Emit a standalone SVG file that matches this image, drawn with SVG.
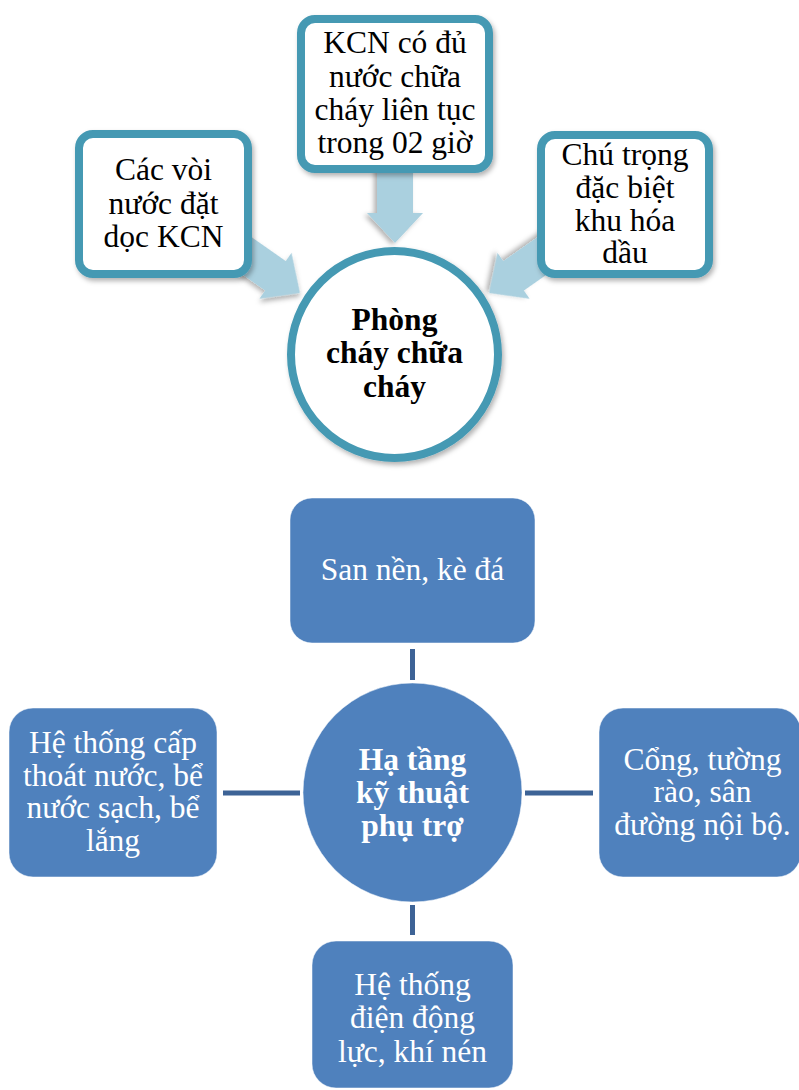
<svg xmlns="http://www.w3.org/2000/svg" width="799" height="1090" viewBox="0 0 799 1090">
<style>
.tb{fill:#ffffff;stroke:#4599B3;stroke-width:8}
.ar{fill:#AAD0DF}
.t{font-family:"Liberation Serif","Times New Roman",serif;font-size:31.5px;text-anchor:middle}
.dk{fill:#000000}
.wt{fill:#ffffff}
.b{font-weight:bold}
.bb{fill:#4F81BD;stroke:#ffffff;stroke-opacity:0.5;stroke-width:1}
.cn{stroke:#3D6396;stroke-width:5;fill:none}
</style>
<defs>
<filter id="sh" x="-20%" y="-20%" width="140%" height="140%">
<feDropShadow dx="2" dy="3" stdDeviation="2.5" flood-color="#000" flood-opacity="0.3"/>
</filter>
<polygon id="arrow" points="-90,-18 -30,-18 -30,-28 0,0 -30,28 -30,18 -90,18"/>
</defs>
<g id="connectors">
<use href="#arrow" class="ar" filter="url(#sh)" transform="translate(300,293) rotate(35)"/>
<use href="#arrow" class="ar" filter="url(#sh)" transform="translate(489,293) rotate(145)"/>
<use href="#arrow" class="ar" filter="url(#sh)" transform="translate(395,243) rotate(90)"/>
<line class="cn" x1="412.5" y1="649" x2="412.5" y2="680"/>
<line class="cn" x1="223" y1="793" x2="300" y2="793"/>
<line class="cn" x1="525" y1="793" x2="593" y2="793"/>
<line class="cn" x1="412.5" y1="905" x2="412.5" y2="935"/>
</g>
<g id="node-voi-nuoc">
<rect class="tb" filter="url(#sh)" x="79" y="134" width="169" height="140" rx="14"/>
<text class="t dk" x="163.5"><tspan x="163.5" y="180">Các vòi</tspan><tspan x="163.5" y="213.5">nước đặt</tspan><tspan x="163.5" y="247">dọc KCN</tspan></text>
</g>
<g id="node-kcn">
<rect class="tb" filter="url(#sh)" x="301" y="19" width="188" height="150" rx="14"/>
<text class="t dk"><tspan x="395" y="53">KCN có đủ</tspan><tspan x="395" y="87">nước chữa</tspan><tspan x="395" y="120">cháy liên tục</tspan><tspan x="395" y="153">trong 02 giờ</tspan></text>
</g>
<g id="node-chu-trong">
<rect class="tb" filter="url(#sh)" x="541" y="135" width="168" height="139" rx="14"/>
<text class="t dk"><tspan x="625" y="165">Chú trọng</tspan><tspan x="625" y="198">đặc biệt</tspan><tspan x="625" y="231">khu hóa</tspan><tspan x="625" y="263">dầu</tspan></text>
</g>
<g id="node-pccc">
<circle class="tb" filter="url(#sh)" cx="394.5" cy="354.5" r="103.5"/>
<text class="t dk b"><tspan x="394.5" y="330">Phòng</tspan><tspan x="394.5" y="363">cháy chữa</tspan><tspan x="394.5" y="397">cháy</tspan></text>
</g>
<g id="node-san-nen">
<rect class="bb" x="290" y="498" width="245" height="145" rx="22"/>
<text class="t wt" x="412.5" y="580">San nền, kè đá</text>
</g>
<g id="node-ha-tang">
<circle class="bb" cx="412.5" cy="792.5" r="109.5"/>
<text class="t wt b"><tspan x="412.5" y="770">Hạ tầng</tspan><tspan x="412.5" y="803">kỹ thuật</tspan><tspan x="412.5" y="836">phụ trợ</tspan></text>
</g>
<g id="node-cap-thoat-nuoc">
<rect class="bb" x="9" y="708" width="208" height="169" rx="24"/>
<text class="t wt"><tspan x="113" y="753">Hệ thống cấp</tspan><tspan x="113" y="785.5">thoát nước, bể</tspan><tspan x="113" y="818">nước sạch, bể</tspan><tspan x="113" y="850.5">lắng</tspan></text>
</g>
<g id="node-cong-tuong">
<rect class="bb" x="599" y="708" width="202" height="169" rx="24"/>
<text class="t wt"><tspan x="702.5" y="770">Cổng, tường</tspan><tspan x="702.5" y="802">rào, sân</tspan><tspan x="702.5" y="835">đường nội bộ.</tspan></text>
</g>
<g id="node-dien-dong-luc">
<rect class="bb" x="312" y="941" width="201" height="147" rx="24"/>
<text class="t wt"><tspan x="412.5" y="995">Hệ thống</tspan><tspan x="412.5" y="1028">điện động</tspan><tspan x="412.5" y="1062">lực, khí nén</tspan></text>
</g>
</svg>
